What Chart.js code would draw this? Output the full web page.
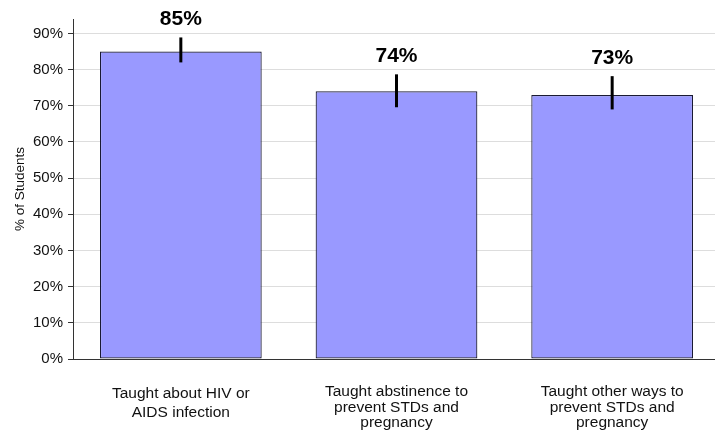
<!DOCTYPE html>
<html>
<head>
<meta charset="utf-8">
<script src="https://cdn.jsdelivr.net/npm/chart.js@4/dist/chart.umd.min.js"></script>
<style>
  html, body { margin: 0; padding: 0; background: #fff; overflow: hidden; }
  #wrap { width: 720px; height: 432px; }
</style>
</head>
<body>
<div id="wrap"><canvas id="chart"></canvas></div>
<script>
const categories = [
    ['Taught about HIV or', 'AIDS infection'],
    ['Taught abstinence to', 'prevent STDs and', 'pregnancy'],
    ['Taught other ways to', 'prevent STDs and', 'pregnancy']
];
const percentages = [85, 74, 73];
const ciLower = [82.0, 69.6, 69.0];
const ciUpper = [88.9, 78.7, 78.2];
const yTicks = [0, 10, 20, 30, 40, 50, 60, 70, 80, 90];

const FONT = '"Liberation Sans", Arial, sans-serif';

// vertical confidence-interval lines plus the bold value above each bar
const errorBars = {
    id: 'errorBars',
    afterDatasetsDraw(chart) {
        const ctx = chart.ctx;
        const y = chart.scales.y;
        const meta = chart.getDatasetMeta(0);
        ctx.save();
        meta.data.forEach((bar, i) => {
            const top = y.getPixelForValue(ciUpper[i]);
            const bottom = y.getPixelForValue(ciLower[i]);
            ctx.strokeStyle = '#000';
            ctx.lineWidth = 3;
            ctx.beginPath();
            ctx.moveTo(bar.x, top);
            ctx.lineTo(bar.x, bottom);
            ctx.stroke();

            ctx.fillStyle = '#000';
            ctx.font = 'bold 21px ' + FONT;
            ctx.textAlign = 'center';
            ctx.textBaseline = 'middle';
            ctx.fillText(percentages[i] + '%', bar.x, top - 18);
        });
        ctx.restore();
    }
};

new Chart(document.getElementById('chart'), {
    type: 'bar',
    data: {
        labels: categories,
        datasets: [{
            data: percentages,
            backgroundColor: '#9999ff',
            borderColor: '#1a1a33',
            borderWidth: 1.2,
            borderSkipped: false,
            barPercentage: 0.75,
            categoryPercentage: 1
        }]
    },
    options: {
        responsive: true,
        maintainAspectRatio: false,
        animation: false,
        layout: { padding: { top: 19, right: 0, left: 0, bottom: 0 } },
        plugins: {
            legend: { display: false },
            tooltip: { enabled: false }
        },
        scales: {
            x: {
                grid: { display: false, drawTicks: false },
                border: { color: '#333', width: 1 },
                ticks: {
                    color: '#111',
                    padding: 25,
                    maxRotation: 0,
                    autoSkip: false,
                    // the two-line label sits looser than the three-line ones
                    font: c => ({ family: FONT, size: 15.5, lineHeight: c.index === 0 ? 1.25 : 1.0 })
                },
                afterFit(scale) { scale.height = 73; }
            },
            y: {
                min: 0,
                max: 94,
                afterBuildTicks(scale) {
                    scale.ticks = yTicks.map(v => ({ value: v }));
                },
                grid: { color: '#dddddd', tickColor: '#333', tickLength: 5, lineWidth: 1 },
                border: { color: '#333', width: 1 },
                ticks: {
                    color: '#111',
                    padding: 5,
                    font: { family: FONT, size: 15 },
                    callback: v => v + '%'
                },
                title: {
                    display: true,
                    text: '% of Students',
                    color: '#111',
                    padding: { top: 12, bottom: 0 },
                    font: { family: FONT, size: 13.5 }
                },
                afterFit(scale) { scale.width = 73; }
            }
        }
    },
    plugins: [errorBars]
});
</script>
</body>
</html>
